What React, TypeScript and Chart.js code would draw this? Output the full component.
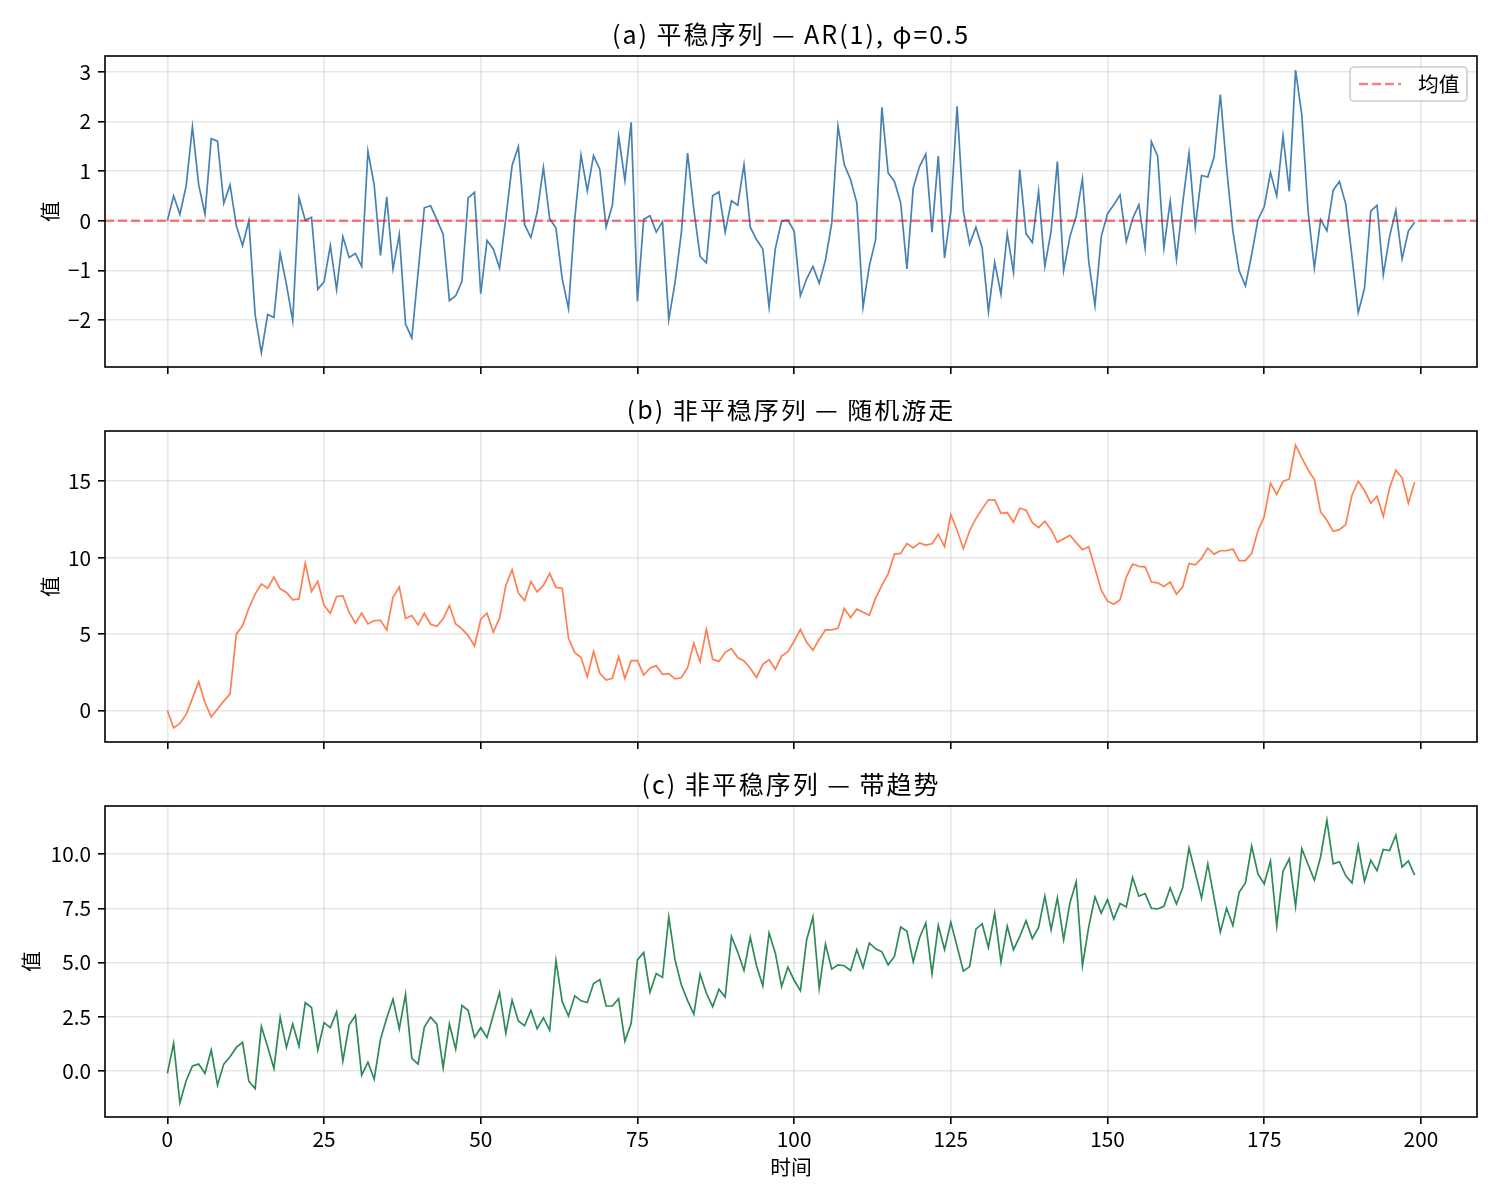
import { useEffect, useRef } from "react";
import { Chart, registerables } from "chart.js";

Chart.register(...registerables);

// time index 0..199
const timeSteps = Array.from({ length: 200 }, (_, i) => i);

// (a) AR(1) series
const arSeries = [
  0.0, 0.5, 0.13, 0.7, 1.89, 0.72, 0.13, 1.65, 1.6, 0.35,
  0.72, -0.1, -0.5, 0.0, -1.89, -2.66, -1.89, -1.95, -0.66, -1.28,
  -2.01, 0.46, 0.01, 0.07, -1.38, -1.23, -0.5, -1.39, -0.32, -0.74,
  -0.66, -0.92, 1.4, 0.72, -0.7, 0.48, -0.97, -0.28, -2.08, -2.36,
  -1.05, 0.26, 0.3, 0.02, -0.27, -1.61, -1.51, -1.22, 0.46, 0.57,
  -1.47, -0.4, -0.57, -0.95, 0.04, 1.11, 1.49, -0.08, -0.34, 0.17,
  1.07, 0.04, -0.15, -1.17, -1.77, 0.04, 1.32, 0.6, 1.31, 1.03,
  -0.13, 0.31, 1.7, 0.81, 1.98, -1.62, 0.03, 0.1, -0.23, -0.02,
  -1.99, -1.24, -0.25, 1.36, 0.22, -0.72, -0.85, 0.5, 0.58, -0.23,
  0.4, 0.31, 1.13, -0.13, -0.38, -0.57, -1.74, -0.56, -0.01, 0.01,
  -0.21, -1.51, -1.17, -0.92, -1.26, -0.79, -0.05, 1.9, 1.13, 0.83,
  0.36, -1.74, -0.91, -0.38, 2.28, 0.96, 0.79, 0.36, -0.97, 0.66,
  1.09, 1.34, -0.23, 1.3, -0.75, 0.19, 2.3, 0.19, -0.47, -0.13,
  -0.55, -1.83, -0.84, -1.48, -0.26, -1.04, 1.03, -0.26, -0.44, 0.59,
  -0.92, -0.21, 1.19, -1.0, -0.32, 0.09, 0.84, -0.82, -1.71, -0.32,
  0.14, 0.32, 0.52, -0.42, 0.04, 0.32, -0.55, 1.59, 1.3, -0.55,
  0.39, -0.77, 0.36, 1.36, -0.13, 0.91, 0.88, 1.28, 2.54, 1.06,
  -0.21, -1.01, -1.31, -0.68, 0.02, 0.28, 0.97, 0.5, 1.71, 0.59,
  3.03, 2.13, 0.19, -0.95, 0.02, -0.2, 0.61, 0.79, 0.34, -0.72,
  -1.85, -1.36, 0.19, 0.31, -1.09, -0.32, 0.21, -0.77, -0.21, -0.03,
];

// (b) random walk
const walkSeries = [
  0.0, -1.14, -0.85, -0.26, 0.79, 1.88, 0.52, -0.42, 0.09, 0.61,
  1.09, 4.99, 5.55, 6.69, 7.61, 8.27, 8.0, 8.73, 7.96, 7.72,
  7.24, 7.3, 9.64, 7.78, 8.44, 6.87, 6.36, 7.46, 7.5, 6.41,
  5.71, 6.36, 5.66, 5.88, 5.9, 5.27, 7.41, 8.07, 6.01, 6.21,
  5.6, 6.36, 5.64, 5.51, 5.99, 6.87, 5.66, 5.34, 4.9, 4.22,
  5.97, 6.36, 5.12, 6.04, 8.18, 9.21, 7.68, 7.19, 8.44, 7.76,
  8.18, 8.97, 8.05, 8.0, 4.72, 3.78, 3.46, 2.21, 3.85, 2.43,
  1.99, 2.1, 3.52, 2.1, 3.26, 3.26, 2.32, 2.76, 2.93, 2.36,
  2.41, 2.06, 2.14, 2.8, 4.4, 3.19, 5.31, 3.35, 3.21, 3.8,
  4.05, 3.46, 3.24, 2.76, 2.16, 3.02, 3.32, 2.69, 3.56, 3.85,
  4.53, 5.31, 4.46, 3.94, 4.66, 5.27, 5.27, 5.38, 6.67, 6.08,
  6.63, 6.43, 6.23, 7.35, 8.18, 8.94, 10.23, 10.28, 10.93, 10.63,
  10.96, 10.82, 10.91, 11.52, 10.71, 12.81, 11.79, 10.58, 11.76, 12.55,
  13.19, 13.78, 13.78, 12.9, 12.95, 12.31, 13.23, 13.1, 12.29, 11.96,
  12.38, 11.83, 11.0, 11.24, 11.46, 10.98, 10.52, 10.71, 9.31, 7.87,
  7.15, 6.95, 7.24, 8.73, 9.58, 9.43, 9.4, 8.4, 8.35, 8.11,
  8.4, 7.61, 8.09, 9.62, 9.53, 9.95, 10.63, 10.23, 10.45, 10.45,
  10.56, 9.8, 9.8, 10.28, 11.76, 12.68, 14.87, 14.13, 14.98, 15.15,
  17.36, 16.53, 15.74, 15.11, 12.99, 12.44, 11.72, 11.83, 12.16, 14.08,
  15.0, 14.39, 13.56, 14.02, 12.7, 14.56, 15.72, 15.22, 13.56, 14.94,
];

// (c) trend series
const trendSeries = [
  -0.12, 1.27, -1.48, -0.46, 0.22, 0.31, -0.12, 0.96, -0.66, 0.31,
  0.65, 1.08, 1.31, -0.48, -0.82, 2.04, 1.11, 0.11, 2.47, 1.08,
  2.16, 1.14, 3.15, 2.92, 0.96, 2.22, 1.99, 2.72, 0.45, 2.11,
  2.55, -0.2, 0.4, -0.39, 1.45, 2.44, 3.3, 1.94, 3.53, 0.57,
  0.31, 2.02, 2.48, 2.15, 0.14, 2.16, 1.0, 3.02, 2.78, 1.54,
  1.99, 1.54, 2.58, 3.61, 1.73, 3.26, 2.3, 2.08, 2.79, 1.94,
  2.45, 1.87, 5.08, 3.19, 2.53, 3.46, 3.23, 3.15, 4.03, 4.21,
  2.99, 2.99, 3.33, 1.37, 2.19, 5.12, 5.46, 3.63, 4.49, 4.31,
  7.1, 5.12, 3.97, 3.24, 2.62, 4.46, 3.58, 2.96, 3.77, 3.4,
  6.2, 5.48, 4.63, 6.16, 4.85, 3.92, 6.36, 5.43, 3.89, 4.78,
  4.18, 3.7, 6.05, 7.1, 3.81, 5.85, 4.69, 4.89, 4.85, 4.63,
  5.59, 4.77, 5.9, 5.63, 5.49, 4.89, 5.28, 6.64, 6.44, 5.03,
  6.13, 6.82, 4.48, 6.71, 5.59, 6.85, 5.74, 4.6, 4.81, 6.54,
  6.79, 5.69, 7.28, 5.03, 6.67, 5.59, 6.2, 6.93, 6.1, 6.62,
  8.06, 6.51, 7.98, 6.05, 7.75, 8.72, 4.85, 6.64, 8.02, 7.28,
  7.9, 7.01, 7.72, 7.56, 8.92, 8.06, 8.18, 7.5, 7.47, 7.59,
  8.44, 7.7, 8.46, 10.28, 9.14, 7.98, 9.55, 7.98, 6.4, 7.5,
  6.7, 8.24, 8.67, 10.37, 9.09, 8.63, 9.68, 6.7, 9.21, 9.78,
  7.59, 10.25, 9.52, 8.8, 9.88, 11.57, 9.55, 9.65, 9.01, 8.67,
  10.4, 8.75, 9.72, 9.24, 10.22, 10.17, 10.88, 9.41, 9.69, 9.03,
];

const meanLevel = 0;

const xTicks = [0, 25, 50, 75, 100, 125, 150, 175, 200];
const yTicksA = [-2, -1, 0, 1, 2, 3];
const yTicksB = [0, 5, 10, 15];
const yTicksC = [0, 2.5, 5, 7.5, 10];

const FONT = '"Noto Sans CJK SC", "Noto Sans", sans-serif';
const PLOT_LEFT = 105;
const PLOT_RIGHT = 1477;
const FIG_W = 1500;
const GRID = "rgba(176,176,176,0.3)";

// matplotlib-style 5% margins
function paddedRange(values: number[]): [number, number] {
  const lo = Math.min(...values);
  const hi = Math.max(...values);
  const m = (hi - lo) * 0.05;
  return [lo - m, hi + m];
}

const minusFmt = (v: number) => (v < 0 ? "\u2212" + Math.abs(v) : String(v));
const oneDecimal = (v: number) => v.toFixed(1);

const panelDecor = {
  id: "panelDecor",
  afterDatasetsDraw(chart: any) {
    const { ctx, chartArea: a } = chart;
    ctx.save();
    ctx.strokeStyle = "#000";
    ctx.lineWidth = 1.6;
    ctx.strokeRect(a.left, a.top, a.right - a.left, a.bottom - a.top);
    ctx.restore();
  },
  afterDraw(chart: any, _args: any, opts: any) {
    const { ctx, chartArea: a } = chart;
    ctx.save();
    ctx.fillStyle = "#000";
    ctx.font = `25px ${FONT}`;
    ctx.letterSpacing = "2px";
    ctx.textAlign = "center";
    ctx.textBaseline = "middle";
    ctx.fillText(opts.title, (a.left + a.right) / 2, a.top - 22);
    ctx.letterSpacing = "0px";

    const items = chart.data.datasets.filter((d: any) => d.label);
    if (opts.legend && items.length) {
      const ds = items[0];
      const w = 117;
      const h = 34;
      const x = a.right - 10 - w;
      const y = a.top + 11;
      ctx.fillStyle = "rgba(255,255,255,0.8)";
      ctx.strokeStyle = "#cccccc";
      ctx.lineWidth = 1.6;
      ctx.beginPath();
      ctx.roundRect(x, y, w, h, 4);
      ctx.fill();
      ctx.stroke();
      ctx.strokeStyle = ds.borderColor;
      ctx.lineWidth = ds.borderWidth;
      ctx.setLineDash(ds.borderDash);
      ctx.beginPath();
      ctx.moveTo(x + 9, y + h / 2);
      ctx.lineTo(x + 51, y + h / 2);
      ctx.stroke();
      ctx.setLineDash([]);
      ctx.fillStyle = "#000";
      ctx.font = `20.8px ${FONT}`;
      ctx.textAlign = "left";
      ctx.textBaseline = "middle";
      ctx.fillText(ds.label, x + 68, y + h / 2);
    }
    ctx.restore();
  },
};

type PanelProps = {
  top: number;
  height: number;
  plotTop: number;
  padLeft: number;
  padBottom: number;
  axisHeight: number;
  values: number[];
  color: string;
  title: string;
  yTicks: number[];
  fmt: (v: number) => string;
  showX: boolean;
  withMean: boolean;
};

function Panel(p: PanelProps) {
  const canvasRef = useRef<HTMLCanvasElement>(null);
  const chartRef = useRef<Chart | null>(null);

  useEffect(() => {
    if (!canvasRef.current) return;
    if (chartRef.current) chartRef.current.destroy();
    const ctx = canvasRef.current.getContext("2d");
    if (!ctx) return;

    const [xMin, xMax] = paddedRange(timeSteps);
    const [yMin, yMax] = paddedRange(
      p.withMean ? [...p.values, meanLevel] : p.values
    );
    const tickFont = { family: FONT, size: 20.8 };

    const datasets: any[] = [];
    if (p.withMean) {
      datasets.push({
        label: "均值",
        data: [
          { x: xMin, y: meanLevel },
          { x: xMax, y: meanLevel },
        ],
        borderColor: "rgba(255,0,0,0.5)",
        borderWidth: 2.5,
        borderDash: [9, 4],
        pointRadius: 0,
      });
    }
    datasets.push({
      data: timeSteps.map((t, i) => ({ x: t, y: p.values[i] })),
      borderColor: p.color,
      borderWidth: 1.7,
      pointRadius: 0,
      tension: 0,
    });

    chartRef.current = new Chart(ctx, {
      type: "line",
      data: { datasets },
      plugins: [panelDecor],
      options: {
        animation: false,
        responsive: false,
        layout: {
          padding: {
            left: p.padLeft,
            right: FIG_W - PLOT_RIGHT,
            top: p.plotTop - p.top,
            bottom: p.padBottom,
          },
        },
        scales: {
          x: {
            type: "linear",
            min: xMin,
            max: xMax,
            afterBuildTicks: (s: any) => {
              s.ticks = xTicks.map((v) => ({ value: v }));
            },
            afterFit: (s: any) => {
              s.height = p.axisHeight;
            },
            ticks: {
              display: p.showX,
              autoSkip: false,
              maxRotation: 0,
              padding: 3,
              color: "#000",
              font: tickFont,
              callback: (v: any) => String(v),
            },
            grid: {
              color: GRID,
              lineWidth: 1.6,
              tickColor: "#000",
              tickLength: 7,
              tickWidth: 1.6,
            },
            border: { display: false },
            title: {
              display: p.showX,
              text: "时间",
              color: "#000",
              font: tickFont,
              padding: 0,
            },
          },
          y: {
            type: "linear",
            min: yMin,
            max: yMax,
            afterBuildTicks: (s: any) => {
              s.ticks = p.yTicks.map((v) => ({ value: v }));
            },
            afterFit: (s: any) => {
              s.width = PLOT_LEFT - p.padLeft;
            },
            ticks: {
              autoSkip: false,
              padding: 7,
              color: "#000",
              font: tickFont,
              callback: (v: any) => p.fmt(Number(v)),
            },
            grid: {
              color: GRID,
              lineWidth: 1.6,
              tickColor: "#000",
              tickLength: 7,
              tickWidth: 1.6,
            },
            border: { display: false },
            title: {
              display: true,
              text: "值",
              color: "#000",
              font: tickFont,
              padding: 0,
            },
          },
        },
        plugins: {
          legend: { display: false },
          tooltip: { enabled: false },
          panelDecor: { title: p.title, legend: p.withMean },
        } as any,
      },
    });

    return () => {
      if (chartRef.current) {
        chartRef.current.destroy();
        chartRef.current = null;
      }
    };
  }, []);

  return (
    <div
      style={{
        position: "absolute",
        left: 0,
        top: p.top,
        width: FIG_W,
        height: p.height,
      }}
    >
      <canvas
        ref={canvasRef}
        width={FIG_W}
        height={p.height}
        style={{ width: FIG_W, height: p.height, display: "block" }}
      />
    </div>
  );
}

export default function App() {
  return (
    <div
      style={{
        position: "absolute",
        left: 0,
        top: 0,
        width: 1500,
        height: 1200,
        background: "#fff",
      }}
    >
      <Panel
        top={0}
        height={400}
        plotTop={56}
        padLeft={37.5}
        padBottom={0}
        axisHeight={33}
        values={arSeries}
        color="#4682b4"
        title="(a) 平稳序列 — AR(1), φ=0.5"
        yTicks={yTicksA}
        fmt={minusFmt}
        showX={false}
        withMean={true}
      />
      <Panel
        top={400}
        height={370}
        plotTop={431}
        padLeft={37.5}
        padBottom={0}
        axisHeight={28}
        values={walkSeries}
        color="#ff7f50"
        title="(b) 非平稳序列 — 随机游走"
        yTicks={yTicksB}
        fmt={minusFmt}
        showX={false}
        withMean={false}
      />
      <Panel
        top={770}
        height={430}
        plotTop={806}
        padLeft={18.5}
        padBottom={20.5}
        axisHeight={62.5}
        values={trendSeries}
        color="#2e8b57"
        title="(c) 非平稳序列 — 带趋势"
        yTicks={yTicksC}
        fmt={oneDecimal}
        showX={true}
        withMean={false}
      />
    </div>
  );
}
